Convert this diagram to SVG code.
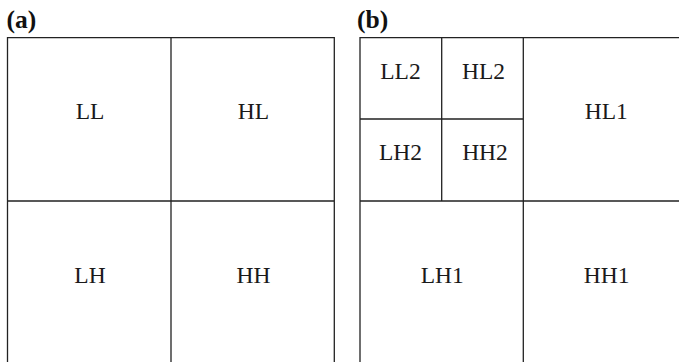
<svg xmlns="http://www.w3.org/2000/svg" width="679" height="362" viewBox="0 0 679 362">
<style>
.ln{stroke:#222;stroke-width:1.3;fill:none}
.t{font-family:"Liberation Serif","Times New Roman",serif;font-size:23.5px;fill:#1a1a1a;text-anchor:middle}
.p{font-family:"Liberation Serif","Times New Roman",serif;font-size:25.5px;font-weight:bold;fill:#111}
</style>
<rect width="679" height="362" fill="#fff"/>
<text class="p" x="6.5" y="27.5">(a)</text>
<text class="p" x="357" y="27.5">(b)</text>
<g id="connectors">
<path class="ln" d="M7.5,362 V37.7 H334.3 V362 M171,37.7 V362 M7.5,201 H334.3"/>
<path class="ln" d="M360,362 V37.7 H679 M523.3,37.7 V362 M360,201 H679 M441.7,37.7 V201 M360,119 H523.3"/>
</g>
<g id="LL"><text class="t" x="90" y="119.3">LL</text></g>
<g id="HL"><text class="t" x="253.5" y="119.3">HL</text></g>
<g id="LH"><text class="t" x="90" y="283.3">LH</text></g>
<g id="HH"><text class="t" x="253.5" y="283.3">HH</text></g>
<g id="LL2"><text class="t" x="400.5" y="79.3">LL2</text></g>
<g id="HL2"><text class="t" x="483.5" y="79.3">HL2</text></g>
<g id="LH2"><text class="t" x="400.5" y="160.3">LH2</text></g>
<g id="HH2"><text class="t" x="485" y="160.3">HH2</text></g>
<g id="HL1"><text class="t" x="606.3" y="119.3">HL1</text></g>
<g id="LH1"><text class="t" x="442.2" y="283.3">LH1</text></g>
<g id="HH1"><text class="t" x="606.7" y="283.3">HH1</text></g>
</svg>
